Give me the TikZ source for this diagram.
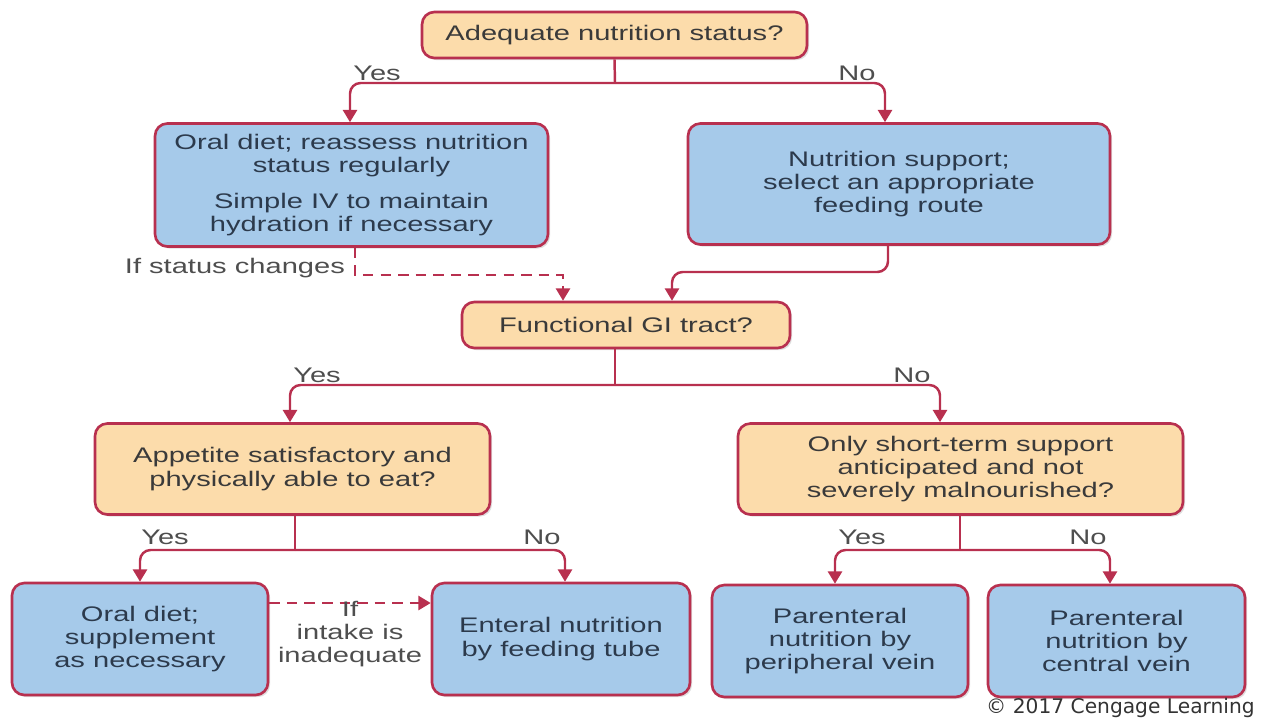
\documentclass[tikz,border=0pt]{standalone}
\usepackage{fontspec}
\setmainfont{Liberation Sans}[FakeStretch=1.38]
\newfontfamily\crfont{DejaVu Sans}
\usepackage{tikz}
\usetikzlibrary{arrows.meta,shadows}
\usepackage{xcolor}
\definecolor{Crim}{HTML}{B8304F}
\definecolor{Peach}{HTML}{FCDCAB}
\definecolor{Sky}{HTML}{A6CAEA}
\definecolor{Ink}{HTML}{3A3A3A}
\definecolor{BlueInk}{HTML}{2C3A4C}

\begin{document}
\begin{tikzpicture}[x=0.02cm,y=-0.02cm,font=\fontsize{12}{13.2}\selectfont,
    box/.style={draw=Crim,line width=1.5pt,rounded corners=7pt,align=center,
      inner sep=2pt,drop shadow={opacity=0.25,shadow xshift=1.2pt,shadow yshift=-1.2pt}},
    quest/.style={box,fill=Peach,text=Ink},
    action/.style={box,fill=Sky,text=BlueInk},
    lbl/.style={text=Ink!90,inner sep=1pt},
    arr/.style={draw=Crim,line width=1.4pt,rounded corners=6pt,-{Triangle[length=7pt,width=8pt]}},
    dasharr/.style={arr,dashed,dash pattern=on 6pt off 4pt,rounded corners=0pt}]
  \useasboundingbox (0,0) rectangle (1261,718);

  % questions
  \node[quest,minimum width=7.7cm,minimum height=0.92cm] (adeq) at (614.5,35) {Adequate nutrition status?};
  \node[quest,minimum width=6.56cm,minimum height=0.92cm] (gi) at (626,325) {Functional GI tract?};
  \node[quest,minimum width=7.9cm,minimum height=1.82cm] (appetite) at (292.5,469)
    {Appetite satisfactory and\\physically able to eat?};
  \node[quest,minimum width=8.9cm,minimum height=1.82cm] (shortterm) at (960.5,469)
    {Only short-term support\\anticipated and not\\severely malnourished?};

  % actions
  \node[action,minimum width=7.86cm,minimum height=2.46cm] (oraltop) at (351.5,185)
    {Oral diet; reassess nutrition\\status regularly\\[7pt]Simple IV to maintain\\hydration if necessary};
  \node[action,minimum width=8.44cm,minimum height=2.42cm] (support) at (899,184)
    {Nutrition support;\\select an appropriate\\feeding route};
  \node[action,minimum width=5.12cm,minimum height=2.24cm] (oralbot) at (140,639)
    {Oral diet;\\supplement\\as necessary};
  \node[action,minimum width=5.16cm,minimum height=2.24cm] (enteral) at (561,639)
    {Enteral nutrition\\by feeding tube};
  \node[action,minimum width=5.12cm,minimum height=2.24cm] (periph) at (840,641)
    {Parenteral\\nutrition by\\peripheral vein};
  \node[action,minimum width=5.14cm,minimum height=2.24cm] (central) at (1116.5,641)
    {Parenteral\\nutrition by\\central vein};

  % branch points
  \coordinate (b1) at (615,83);
  \coordinate (b2) at (615,385);
  \coordinate (b3) at (295,550);
  \coordinate (b4) at (960,550);
  \coordinate (d1) at (355,275);
  \coordinate (d2) at (563,275);
  \coordinate (r1) at (888,272);
  \coordinate (r2) at (672,272);

  \draw[arr,-] (adeq.south) -- (b1);
  \draw[arr] (b1) -| ([xshift=-0.03cm]oraltop.north);
  \draw[arr] (b1) -| ([xshift=-0.28cm]support.north);
  \node[lbl] (yes1) at (377,73) {Yes};
  \node[lbl] (no1) at (857,73) {No};

  \draw[dasharr] (oraltop.south -| d1) -- (d1) -- (d2) -- (gi.north -| d2);
  \node[lbl,anchor=east] (ifstatus) at (347,268) {If status changes};
  \draw[arr] (support.south -| r1) -- (r1) -- (r2) -- (gi.north -| r2);

  \draw[arr,-] (gi.south -| b2) -- (b2);
  \draw[arr] (b2) -| ([xshift=-0.05cm]appetite.north);
  \draw[arr] (b2) -| ([xshift=-0.41cm]shortterm.north);
  \node[lbl] (yes2) at (317,375) {Yes};
  \node[lbl] (no2) at (912,375) {No};

  \draw[arr,-] (appetite.south -| b3) -- (b3);
  \draw[arr] (b3) -| (oralbot.north);
  \draw[arr] (b3) -| ([xshift=0.08cm]enteral.north);
  \node[lbl] (yes3) at (165,537) {Yes};
  \node[lbl] (no3) at (542,537) {No};

  \draw[arr,-] (shortterm.south -| b4) -- (b4);
  \draw[arr] (b4) -| ([xshift=-0.1cm]periph.north);
  \draw[arr] (b4) -| ([xshift=-0.13cm]central.north);
  \node[lbl] (yes4) at (862,537) {Yes};
  \node[lbl] (no4) at (1088,537) {No};

  \draw[dasharr] ([yshift=0.72cm]oralbot.east) -- ([yshift=0.72cm]enteral.west);
  \node[lbl,align=center] (intake) at (350,634) {If\\intake is\\inadequate};

  \node[anchor=south east,inner sep=0pt,text=black!80,font=\crfont\fontsize{11.5}{13}\selectfont]
    (copy) at (1255,718) {© 2017 Cengage Learning};
\end{tikzpicture}
\end{document}
